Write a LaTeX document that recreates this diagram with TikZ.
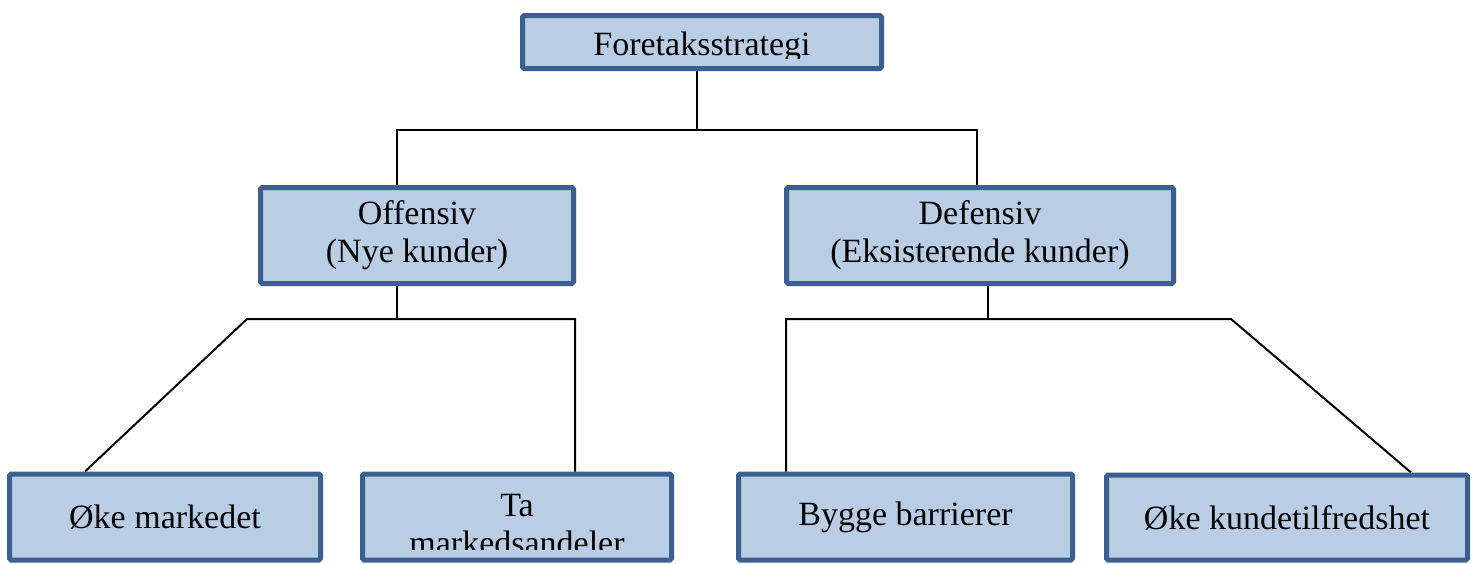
\documentclass[tikz,border=0pt]{standalone}
\usepackage{fontspec}
\setmainfont{Liberation Serif}
\usetikzlibrary{positioning, calc}
\definecolor{boxfill}{HTML}{B9CDE5}
\definecolor{boxline}{HTML}{3C5F8D}

\begin{document}
\begin{tikzpicture}[
    x=0.5pt, y=-0.5pt,
    font=\fontsize{17pt}{19pt}\selectfont,
    box/.style={draw=boxline, line width=2.5pt, fill=boxfill, inner sep=0pt,
                rounded corners=0.8pt, align=center},
    label/.style={inner sep=0pt, align=center},
    link/.style={draw=black, line width=1pt}
]
\useasboundingbox (0,0) rectangle (1479,563);

% nodes
\node[box, minimum width=179.5pt, minimum height=26.5pt] (strategi) at (702,42) {};
\node[box, minimum width=156.5pt, minimum height=48pt] (offensiv) at (417,235.5) {Offensiv\\(Nye kunder)};
\node[box, minimum width=193.5pt, minimum height=48pt] (defensiv) at (980,235.5) {Defensiv\\(Eksisterende kunder)};
\node[box, minimum width=155.5pt, minimum height=43pt] (marked) at (165,517) {Øke markedet};
\node[box, minimum width=154.5pt, minimum height=43pt] (andeler) at (517,517) {};
\node[box, minimum width=167pt, minimum height=43pt] (barrierer) at (905.5,517) {Bygge barrierer};
\node[box, minimum width=180.5pt, minimum height=42.5pt] (tilfreds) at (1287,517.5) {Øke kundetilfredshet};

% texts cut off by their box
\begin{scope}
  \clip (strategi.north west) rectangle (884,58);
  \node[label, anchor=base] (strategitext) at (702,55) {Foretaksstrategi};
\end{scope}
\begin{scope}
  \clip (andeler.north west) rectangle (674,549);
  \node[label] (andelertext) at (517,525) {Ta\\markedsandeler};
\end{scope}

% joints
\coordinate (top) at (697,130);
\coordinate (topl) at (397,130);
\coordinate (topr) at (977,130);
\coordinate (offj) at (397,319);
\coordinate (offl) at (247,319);
\coordinate (offr) at (575,319);
\coordinate (defj) at (988,319);
\coordinate (defl) at (786,319);
\coordinate (defr) at (1231,319);

% connectors
\draw[link] (strategi.south -| top) -- (top);
\draw[link] (offensiv.north -| topl) |- (topr) -- (defensiv.north -| topr);

\draw[link] (offensiv.south -| offj) -- (offj);
\draw[link] (marked.north -| 85,0) -- (offl) -- (offr) -- (andeler.north -| offr);

\draw[link] (defensiv.south -| defj) -- (defj);
\draw[link] (barrierer.north -| defl) -- (defl) -- (defr) -- (tilfreds.north -| 1411,0);

\end{tikzpicture}
\end{document}
